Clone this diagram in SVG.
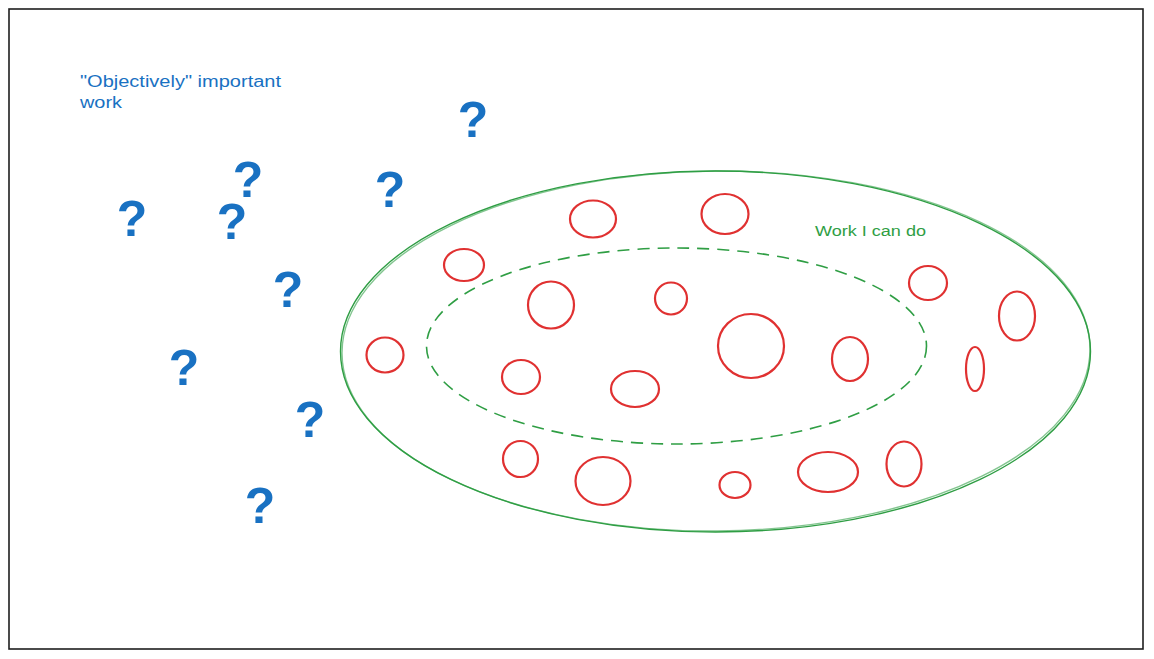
<svg xmlns="http://www.w3.org/2000/svg" width="1154" height="659" viewBox="0 0 1154 659">
<style>
.frame{fill:#ffffff;stroke:#1e1e1e;stroke-width:1.6}
.work{fill:none;stroke:#e03131;stroke-width:2.2}
.zone{fill:none;stroke:#2f9e44;stroke-width:1.4}
.core{fill:none;stroke:#2f9e44;stroke-width:1.6;stroke-dasharray:12 8}
.q{font-family:"Liberation Sans",Arial,sans-serif;font-weight:bold;font-size:50px;fill:#1971c2;text-anchor:middle}
.lbl{font-family:"Liberation Sans",Arial,sans-serif;font-size:16px;fill:#1971c2}
.glbl{font-family:"Liberation Sans",Arial,sans-serif;font-size:14px;fill:#2f9e44}
</style>
<rect width="1154" height="659" fill="#ffffff"/>
<rect id="frame" class="frame" x="9" y="9" width="1134" height="640"/>
<g id="label-objective">
<text class="lbl" x="80" y="87" textLength="201" lengthAdjust="spacingAndGlyphs">"Objectively" important</text>
<text class="lbl" x="80" y="108" textLength="42" lengthAdjust="spacingAndGlyphs">work</text>
</g>
<g id="questions">
<text class="q" x="473" y="137">?</text>
<text class="q" x="248" y="197">?</text>
<text class="q" x="390" y="207">?</text>
<text class="q" x="132" y="236">?</text>
<text class="q" x="232" y="239">?</text>
<text class="q" x="288" y="307">?</text>
<text class="q" x="184" y="385">?</text>
<text class="q" x="310" y="437">?</text>
<text class="q" x="260" y="523">?</text>
</g>
<g id="work-i-can-do">
<ellipse class="zone" cx="715.5" cy="351.5" rx="375" ry="180.5"/>
<ellipse class="zone" cx="716" cy="351" rx="374" ry="180" transform="rotate(-0.4 716 351)" opacity="0.6"/>
<text class="glbl" x="815" y="236" textLength="111" lengthAdjust="spacingAndGlyphs">Work I can do</text>
</g>
<g id="core-zone">
<ellipse class="core" cx="676.5" cy="346" rx="250" ry="98"/>
</g>
<g id="work-items">
<ellipse class="work" cx="593" cy="219" rx="23" ry="18.5"/>
<ellipse class="work" cx="725" cy="214" rx="23.5" ry="20"/>
<ellipse class="work" cx="464" cy="265" rx="20" ry="16"/>
<ellipse class="work" cx="551" cy="305" rx="23" ry="23.5"/>
<ellipse class="work" cx="671" cy="298.5" rx="16" ry="16"/>
<ellipse class="work" cx="751" cy="346" rx="33" ry="32"/>
<ellipse class="work" cx="850" cy="359" rx="18" ry="22"/>
<ellipse class="work" cx="521" cy="377" rx="19" ry="17"/>
<ellipse class="work" cx="635" cy="389" rx="24" ry="18"/>
<ellipse class="work" cx="385" cy="355" rx="18.5" ry="17.5"/>
<ellipse class="work" cx="928" cy="283" rx="19" ry="17"/>
<ellipse class="work" cx="1017" cy="316" rx="18" ry="24.5"/>
<ellipse class="work" cx="975" cy="369" rx="9" ry="22"/>
<ellipse class="work" cx="520.5" cy="459" rx="17.5" ry="18"/>
<ellipse class="work" cx="603" cy="481" rx="27.5" ry="24"/>
<ellipse class="work" cx="735" cy="485" rx="15.5" ry="13"/>
<ellipse class="work" cx="828" cy="472" rx="30" ry="20"/>
<ellipse class="work" cx="904" cy="464" rx="17.5" ry="22.5"/>
</g>
</svg>
